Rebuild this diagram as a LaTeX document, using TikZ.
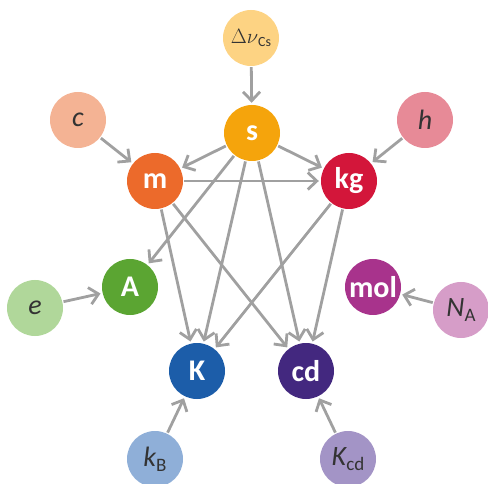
\documentclass[tikz,border=0pt]{standalone}
\usepackage{fontspec}
\setmainfont{Carlito}
\usetikzlibrary{arrows.meta}
\definecolor{cDnu}{HTML}{FDD383}
\definecolor{cs}{HTML}{F5A40C}
\definecolor{cc}{HTML}{F4B394}
\definecolor{ch}{HTML}{E78A97}
\definecolor{cm}{HTML}{EC6A2B}
\definecolor{ckg}{HTML}{D3163A}
\definecolor{cA}{HTML}{5BA532}
\definecolor{ce}{HTML}{B0D79A}
\definecolor{cmol}{HTML}{A8338C}
\definecolor{cNA}{HTML}{D69DC8}
\definecolor{cK}{HTML}{1C5DA9}
\definecolor{ccd}{HTML}{43287F}
\definecolor{ckB}{HTML}{8FAFD8}
\definecolor{cKcd}{HTML}{A394C6}
\definecolor{arr}{HTML}{A0A0A0}
\definecolor{txt}{HTML}{333333}
\begin{document}
\begin{tikzpicture}[x=1pt,y=-1pt,
  unit/.style={circle, minimum size=56pt, inner sep=0pt, fill=#1, text=white, font=\fontsize{30}{32}\selectfont\bfseries},
  const/.style={circle, minimum size=56pt, inner sep=0pt, fill=#1, text=txt, font=\fontsize{28}{30}\selectfont\itshape},
  link/.style={draw=arr, line width=2.8pt, -{Straight Barb[length=9pt,width=17pt]}, shorten >=2pt, shorten <=1pt}]
\useasboundingbox (0,0) rectangle (488,484);
\node[const=cDnu, font=\fontsize{22}{24}\selectfont] (dnu) at (251,38) {$\Delta\nu$\raisebox{-0.3ex}{\fontsize{14}{15}\selectfont Cs}};
\node[unit=cs] (s) at (252,133) {s};
\node[const=cc] (c) at (78,120) {c};
\node[const=ch] (h) at (425,120) {h};
\node[unit=cm] (m) at (155,181) {m};
\node[unit=ckg] (kg) at (349,181) {kg};
\node[unit=cA] (A) at (130,287) {A};
\node[const=ce] (e) at (35,308) {e};
\node[unit=cmol] (mol) at (373,287) {mol};
\node[const=cNA] (NA) at (461,310) {N\raisebox{-0.35ex}{\upshape\fontsize{19}{20}\selectfont A}};
\node[unit=cK] (K) at (197,371) {K};
\node[unit=ccd] (cd) at (306,371) {cd};
\node[const=ckB] (kB) at (155,459) {k\raisebox{-0.35ex}{\upshape\fontsize{19}{20}\selectfont B}};
\node[const=cKcd] (Kcd) at (348,459) {K\raisebox{-0.35ex}{\upshape\fontsize{19}{20}\selectfont cd}};
\draw[link] (dnu) -- (s);
\draw[link] (c) -- (m);
\draw[link] (h) -- (kg);
\draw[link] (e) -- (A);
\draw[link] (NA) -- (mol);
\draw[link] (kB) -- (K);
\draw[link] (Kcd) -- (cd);
\draw[link] (s) -- (m);
\draw[link] (s) -- (kg);
\draw[link] (s) -- (A);
\draw[link] (s) -- (K);
\draw[link] (s) -- (cd);
\draw[link] (m) -- (kg);
\draw[link] (m) -- (K);
\draw[link] (m) -- (cd);
\draw[link] (kg) -- (K);
\draw[link] (kg) -- (cd);
\end{tikzpicture}
\end{document}
